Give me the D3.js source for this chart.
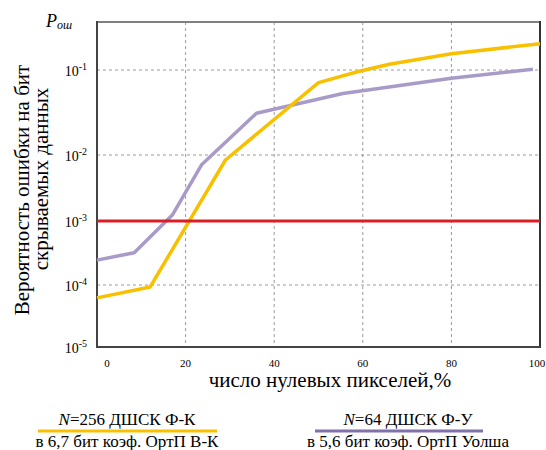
<!DOCTYPE html>
<html>
<head>
<meta charset="utf-8">
<script src="https://cdn.jsdelivr.net/npm/d3@7"></script>
<style>
  html, body { margin: 0; padding: 0; background: #fff; }
  svg { display: block; }
</style>
</head>
<body>
<svg id="chart" width="546" height="450"></svg>
<script>
// ---- data ----
const xTickValues = [0, 20, 40, 60, 80, 100];
const xGridValues = [20, 40, 60, 80];
const yTickExponents = [-5, -4, -3, -2, -1];
const yGridExponents = [-4, -3, -2, -1];

// N=256 ДШСК Ф-К (yellow)
const fkX = [0, 12, 29, 50, 59, 66, 80, 100];
const fkY = [6.2e-5, 9.3e-5, 8.4e-3, 0.071, 0.096, 0.117, 0.155, 0.204];
// N=64 ДШСК Ф-У (purple)
const fuX = [0, 8.4, 17, 23.6, 36, 55.5, 80, 98.4];
const fuY = [2.45e-4, 3.2e-4, 1.23e-3, 7.1e-3, 0.031, 0.053, 0.080, 0.102];
// threshold
const thresholdX = [0, 100];
const thresholdY = [1e-3, 1e-3];

const legendLabels = [
  { line1: "=256 ДШСК Ф-К", line2: "в 6,7 бит коэф. ОртП В-К" },
  { line1: "=64 ДШСК Ф-У", line2: "в 5,6 бит коэф. ОртП Уолша" }
];

// ---- layout ----
const L = 97, R = 540, T = 22, B = 347;
const colYellow = "#F9C000", colPurple = "#A99BC8", colRed = "#D91F26";
const colPurpleLegend = "#8171AB";
const FONT = "'Liberation Serif'";
const INK = "#000";

const svg = d3.select("#chart");
const txt = () => svg.append("text").style("font-family", FONT).attr("fill", INK);

const x = d3.scaleLinear().domain([0, 100]).range([L, R]);
// non-uniform decade spacing as in the original figure
const yLog = d3.scaleLinear().domain([-5, -4, -3, -2, -1]).range([B, 285, 221, 155, 70]);
const y = v => yLog(Math.log10(v));

// grid
const grid = svg.append("g");
grid.selectAll("line.gx").data(xGridValues).join("line")
  .attr("x1", d => x(d)).attr("x2", d => x(d))
  .attr("y1", T).attr("y2", B)
  .attr("stroke", "#9a9a9a").attr("stroke-width", 1).attr("stroke-dasharray", "3,3");
grid.selectAll("line.gy").data(yGridExponents).join("line")
  .attr("x1", L).attr("x2", R)
  .attr("y1", d => yLog(d)).attr("y2", d => yLog(d))
  .attr("stroke", "#9a9a9a").attr("stroke-width", 1).attr("stroke-dasharray", "3,3");

// frame
svg.append("line").attr("x1", L).attr("x2", R).attr("y1", T).attr("y2", T)
  .attr("stroke", "#808080").attr("stroke-width", 2);
svg.append("line").attr("x1", L).attr("x2", L).attr("y1", T - 1).attr("y2", B + 1)
  .attr("stroke", "#444").attr("stroke-width", 2);
svg.append("line").attr("x1", R).attr("x2", R).attr("y1", T - 1).attr("y2", B + 1)
  .attr("stroke", "#333").attr("stroke-width", 2);
svg.append("line").attr("x1", L).attr("x2", R).attr("y1", B).attr("y2", B)
  .attr("stroke", "#444").attr("stroke-width", 2);

// series
const line = d3.line().x(d => x(d[0])).y(d => y(d[1]));
svg.append("path").datum(d3.zip(fuX, fuY)).attr("d", line)
  .attr("fill", "none").attr("stroke", colPurple).attr("stroke-width", 3.5)
  .attr("stroke-linejoin", "round");
svg.append("path").datum(d3.zip(fkX, fkY)).attr("d", line)
  .attr("fill", "none").attr("stroke", colYellow).attr("stroke-width", 3.5)
  .attr("stroke-linejoin", "round");
svg.append("path").datum(d3.zip(thresholdX, thresholdY)).attr("d", line)
  .attr("fill", "none").attr("stroke", colRed).attr("stroke-width", 3);

// x tick labels
const xShift = { 0: 10, 100: -3 };
svg.selectAll("text.xt").data(xTickValues).join("text")
  .style("font-family", FONT).attr("fill", INK)
  .attr("x", d => x(d) + (xShift[d] || 0)).attr("y", 367)
  .attr("text-anchor", "middle").attr("font-size", 11).text(d => d);

// y tick labels
const yt = svg.selectAll("text.yt").data(yTickExponents).join("text")
  .style("font-family", FONT).attr("fill", INK)
  .attr("x", 87).attr("y", d => yLog(d) + 6)
  .attr("text-anchor", "end").attr("font-size", 14);
yt.append("tspan").text("10");
yt.append("tspan").attr("font-size", 10).attr("dy", -6).text(d => d);

// P_ош
const p = txt().attr("x", 46).attr("y", 27).attr("font-style", "italic");
p.append("tspan").attr("font-size", 18).text("P");
p.append("tspan").attr("font-size", 12).attr("dy", 2).text("ош");

// axis titles
txt().attr("text-anchor", "middle").attr("font-size", 21)
  .attr("transform", "translate(29,190) rotate(-90)")
  .text("Вероятность ошибки  на бит");
txt().attr("text-anchor", "middle").attr("font-size", 21)
  .attr("transform", "translate(48,179) rotate(-90)")
  .text("скрываемых данных");
txt().attr("x", 330).attr("y", 387).attr("text-anchor", "middle")
  .attr("font-size", 21).text("число нулевых пикселей,%");

// legend
const legendPos = [{ cx: 127, x1: 38, x2: 217, c: colYellow }, { cx: 408, x1: 315, x2: 483, c: colPurpleLegend }];
legendLabels.forEach((lg, i) => {
  const pos = legendPos[i];
  const t1 = txt().attr("x", pos.cx).attr("y", 425).attr("text-anchor", "middle").attr("font-size", 17);
  t1.append("tspan").attr("font-style", "italic").text("N");
  t1.append("tspan").text(lg.line1);
  svg.append("line").attr("x1", pos.x1).attr("x2", pos.x2).attr("y1", 431).attr("y2", 431)
    .attr("stroke", pos.c).attr("stroke-width", 3);
  txt().attr("x", pos.cx).attr("y", 447).attr("text-anchor", "middle").attr("font-size", 17)
    .text(lg.line2);
});
</script>
</body>
</html>
